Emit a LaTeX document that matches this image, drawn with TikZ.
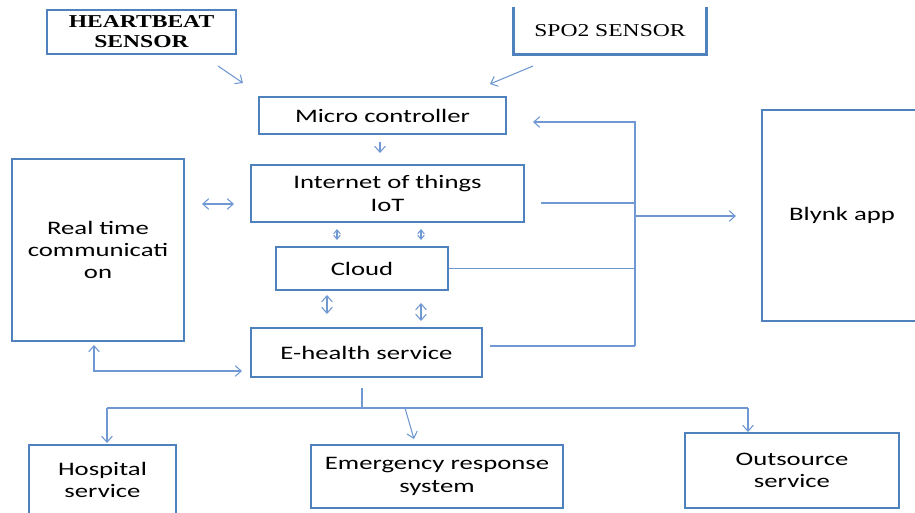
\documentclass[tikz,border=0pt]{standalone}
\usepackage{fontspec}
\setmainfont{Carlito}[FakeStretch=1.4]
\newfontfamily\serifx{Liberation Serif}[FakeStretch=1.3]
\usetikzlibrary{arrows.meta,calc}
\definecolor{boxblue}{RGB}{79,129,189}
\definecolor{lineblue}{RGB}{112,152,210}
\tikzset{
  box/.style={draw=boxblue, line width=2.1pt, align=center, inner sep=0pt,
    font=\fontsize{14.3}{16.8}\selectfont, text=black},
  sz/.style 2 args={minimum width=#1*0.75pt, minimum height=#2*0.75pt},
  conn/.style={draw=lineblue, line width=0.8pt},
  arr/.style={conn, -{Straight Barb[length=4.5pt,width=8pt]}},
  darr/.style={conn, {Straight Barb[length=4.5pt,width=8pt]}-{Straight Barb[length=4.5pt,width=8pt]}},
  sdarr/.style={conn, {Straight Barb[length=3pt,width=5pt]}-{Straight Barb[length=3pt,width=5pt]}},
}
\begin{document}
\begin{tikzpicture}[x=0.75pt,y=-0.75pt]
\useasboundingbox (0,0) rectangle (915,512);
\clip (0,0) rectangle (915,512);
\fill[white] (0,0) rectangle (915,512);
% nodes
\node[box, sz={189}{44}, font=\serifx\bfseries\fontsize{13.6}{15}\selectfont] (hb) at (141.5,32) {HEARTBEAT\\SENSOR};
\node[box, draw=none, sz={190}{45}, font=\serifx\fontsize{13.6}{15}\selectfont] (spo) at (610,30.5) {SPO2 SENSOR};
\draw[boxblue, line width=2.1pt] (spo.north west) -- (spo.south west) -- (spo.south east) -- (spo.north east);
\node[box, sz={247}{37}] (mc) at (382.5,115.5) {Micro controller};
\node[box, sz={273}{57}] (iot) at (387.5,193.5) {Internet of things\\IoT};
\node[box, sz={172}{182}] (rt) at (98,250) {Real time\\communicati\\on};
\node[box, sz={172}{43}] (cloud) at (362,268.5) {Cloud};
\node[box, sz={231}{49}] (eh) at (366.5,352.5) {E-health service};
\node[box, sz={160}{211}] (blynk) at (842,215.5) {Blynk app};
\node[box, sz={147}{70}] (hosp) at (102.5,480) {Hospital\\service};
\node[box, sz={252}{63}] (emer) at (437,476.5) {Emergency response\\system};
\node[box, sz={214}{75}] (outs) at (792,470.5) {Outsource\\service};
% free-end coordinates
\coordinate (h1) at (218,66); \coordinate (h2) at (243,83);
\coordinate (s1) at (533,66); \coordinate (s2) at (490,84);
\coordinate (m1) at (380,142); \coordinate (m2) at (380,153);
\coordinate (r1) at (202,204); \coordinate (r2) at (234,204);
\coordinate (c1a) at (337,229); \coordinate (c1b) at (337,240);
\coordinate (c2a) at (421,229); \coordinate (c2b) at (421,240);
\coordinate (e1a) at (327,295); \coordinate (e1b) at (327,314);
\coordinate (e2a) at (421,303); \coordinate (e2b) at (421,321);
\coordinate (rb) at (94,345); \coordinate (rc) at (94,371); \coordinate (re) at (242,371);
\coordinate (btop) at (635,122); \coordinate (bbot) at (635,346);
\coordinate (mcin) at (533,122);
\coordinate (iotout) at (541,203);
\coordinate (ehout) at (490,346);
\coordinate (bmid) at (635,216); \coordinate (bl) at (736,216);
\coordinate (t0) at (362,388); \coordinate (t1) at (362,408);
\coordinate (tl) at (107,408); \coordinate (tr) at (748,408);
\coordinate (te) at (405,408);
\coordinate (ah) at (107,443); \coordinate (ae) at (414,439); \coordinate (ao) at (748,432);
% connectors
\draw[arr] (h1) -- (h2);
\draw[arr] (s1) -- (s2);
\draw[arr] (m1) -- (m2);
\draw[darr] (r1) -- (r2);
\draw[sdarr] (c1a) -- (c1b);
\draw[sdarr] (c2a) -- (c2b);
\draw[darr] (e1a) -- (e1b);
\draw[darr] (e2a) -- (e2b);
\draw[darr] (rb) -- (rc) -- (re);
\draw[arr] (bbot) -- (btop) -- (mcin);
\draw[conn] (iotout) -- (iotout -| btop);
\draw[conn] (cloud.east) -- (cloud.east -| btop);
\draw[conn] (ehout) -- (bbot);
\draw[arr] (bmid) -- (bl);
\draw[conn] (t0) -- (t1);
\draw[conn] (tl) -- (tr);
\draw[arr] (tl) -- (ah);
\draw[arr] (te) -- (ae);
\draw[arr] (tr) -- (ao);
\end{tikzpicture}
\end{document}
